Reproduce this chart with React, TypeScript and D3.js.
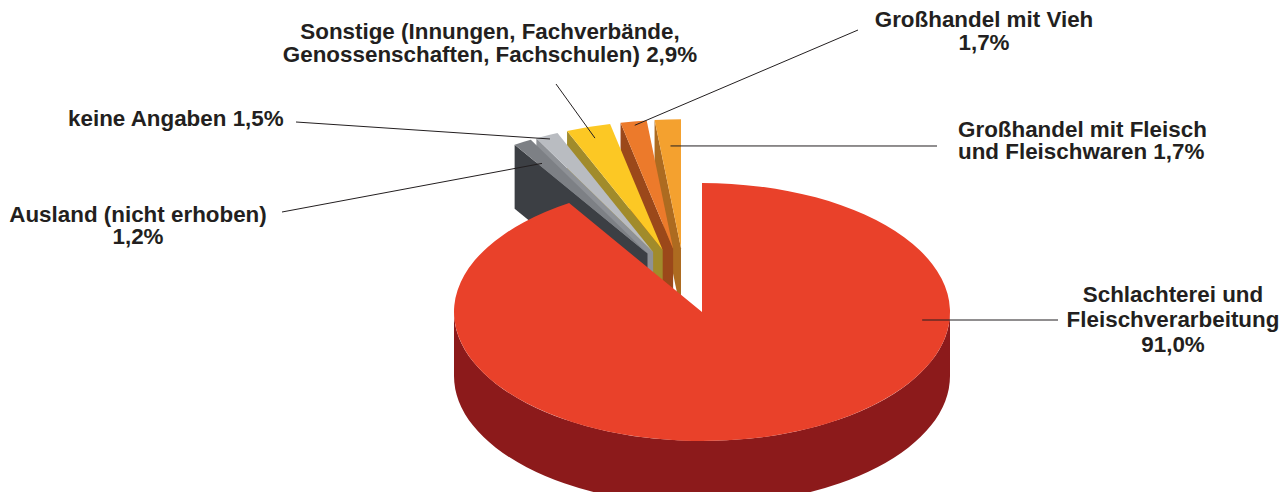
import React from "react";
import * as d3 from "d3";

// categories in pie order (clockwise from 12 o'clock)
const categories = [
  "Schlachterei und Fleischverarbeitung",
  "Ausland (nicht erhoben)",
  "keine Angaben",
  "Sonstige (Innungen, Fachverbände, Genossenschaften, Fachschulen)",
  "Großhandel mit Vieh",
  "Großhandel mit Fleisch und Fleischwaren",
];
const shares = [91.0, 1.2, 1.5, 2.9, 1.7, 1.7];
// label lines, {v} is replaced by the formatted share
const labelLines = [
  ["Schlachterei und", "Fleischverarbeitung", "{v}"],
  ["Ausland (nicht erhoben)", "{v}"],
  ["keine Angaben {v}"],
  ["Sonstige (Innungen, Fachverbände,", "Genossenschaften, Fachschulen) {v}"],
  ["Großhandel mit Vieh", "{v}"],
  ["Großhandel mit Fleisch", "und Fleischwaren {v}"],
];

const topColors = ["#e9412a", "#7d8085", "#b9bcc1", "#fcc824", "#ec7a2b", "#f4a12f"];
const sideColors = ["#8c1a1b", "#3c3f44", "#8e9196", "#a18b2b", "#9b481a", "#ad6b20"];

// label placement (layout only)
const labelLayout = [
  { x: 1173, y: 301.5, lh: 25, anchor: "middle", from: [1058, 320], angle: 94, r: 0.89, drop: 0 },
  { x: 138, y: 221.5, lh: 22, anchor: "middle", from: [282, 212], angle: null, r: 0.845, drop: 4 },
  { x: 68, y: 126, lh: 22, anchor: "start", from: [296, 122], angle: null, r: 0.97, drop: 0 },
  { x: 490, y: 39.3, lh: 22.4, anchor: "middle", from: [556, 84], angle: null, r: 0.91, drop: 0 },
  { x: 984, y: 27, lh: 23, anchor: "middle", from: [858, 30], angle: null, r: 0.97, drop: 0 },
  { x: 958, y: 136.5, lh: 22, anchor: "start", from: [937, 146], angle: null, r: 0.795, drop: 0 },
];

const W = 1283, H = 492;
const cx = 702, cy = 312, rx = 248, ry = 129, depth = 64;
const explode = 0.3, liftX = -17, liftY = -25;

const fmt = d3
  .formatLocale({ decimal: ",", thousands: ".", grouping: [3], currency: ["", "€"] })
  .format(".1f");

export default function App() {
  const arcs = d3.pie<number>().sort(null).value((d) => d)(shares);

  const slices = arcs.map((a, i) => {
    const mid = (a.startAngle + a.endAngle) / 2;
    const ex = a.value < 10 ? 1 : 0;
    const ox = cx + ex * (explode * rx * Math.sin(mid) + liftX);
    const oy = cy + ex * (-explode * ry * Math.cos(mid) + liftY);
    return { i, a, mid, ox, oy };
  });

  const pt = (s: any, ang: number, r = 1, dz = 0) => [
    s.ox + rx * r * Math.sin(ang),
    s.oy - ry * r * Math.cos(ang) + dz,
  ];

  const topArc = d3.arc<any>().innerRadius(0).outerRadius(rx);

  // back to front
  const order = [...slices].sort((p, q) => Math.cos(q.mid) - Math.cos(p.mid));

  const faces = order.map((s) => {
    const { startAngle: st, endAngle: en } = s.a;
    const parts: any[] = [];
    // radial face at start angle
    if (Math.sin(st) < -1e-6) {
      const p0 = pt(s, st);
      const c = [s.ox, s.oy];
      parts.push(
        <path
          key="fs"
          d={`M${c[0]},${c[1]}L${p0[0]},${p0[1]}L${p0[0]},${p0[1] + depth}L${c[0]},${c[1] + depth}Z`}
          fill={sideColors[s.i]}
        />
      );
    }
    // radial face at end angle
    if (Math.sin(en) > 1e-6) {
      const p1 = pt(s, en);
      const c = [s.ox, s.oy];
      parts.push(
        <path
          key="fe"
          d={`M${c[0]},${c[1]}L${p1[0]},${p1[1]}L${p1[0]},${p1[1] + depth}L${c[0]},${c[1] + depth}Z`}
          fill={sideColors[s.i]}
        />
      );
    }
    // outer wall
    const a0 = Math.max(st, Math.PI / 2);
    const a1 = Math.min(en, (3 * Math.PI) / 2);
    if (a1 > a0) {
      const p0 = pt(s, a0), p1 = pt(s, a1);
      parts.push(
        <path
          key="w"
          d={`M${p0[0]},${p0[1]}A${rx},${ry} 0 0 1 ${p1[0]},${p1[1]}L${p1[0]},${p1[1] + depth}A${rx},${ry} 0 0 0 ${p0[0]},${p0[1] + depth}Z`}
          fill={sideColors[s.i]}
        />
      );
    }
    parts.push(
      <path
        key="t"
        d={topArc(s.a) as string}
        transform={`translate(${s.ox},${s.oy}) scale(1,${ry / rx})`}
        fill={topColors[s.i]}
      />
    );
    return <g key={s.i}>{parts}</g>;
  });

  const labels = slices.map((s) => {
    const L = labelLayout[s.i];
    const ang = L.angle == null ? s.mid : (L.angle * Math.PI) / 180;
    const end = pt(s, ang, L.r, L.drop);
    const v = fmt(shares[s.i]) + "%";
    return (
      <g key={"l" + s.i}>
        <line
          x1={L.from[0]}
          y1={L.from[1]}
          x2={end[0]}
          y2={end[1]}
          stroke="#231f20"
          strokeWidth={1}
        />
        <text
          textAnchor={L.anchor}
          fontFamily="Liberation Sans, Arial, Helvetica, sans-serif"
          fontWeight="bold"
          fontSize={22.4}
          fill="#231f20"
        >
          {labelLines[s.i].map((ln, k) => (
            <tspan key={k} x={L.x} y={L.y + k * L.lh}>
              {ln.replace("{v}", v)}
            </tspan>
          ))}
        </text>
      </g>
    );
  });

  return (
    <svg
      width={W}
      height={H}
      style={{ position: "fixed", left: 0, top: 0, background: "#fff" }}
    >
      <title>{categories.join(", ")}</title>
      {faces}
      {labels}
    </svg>
  );
}
